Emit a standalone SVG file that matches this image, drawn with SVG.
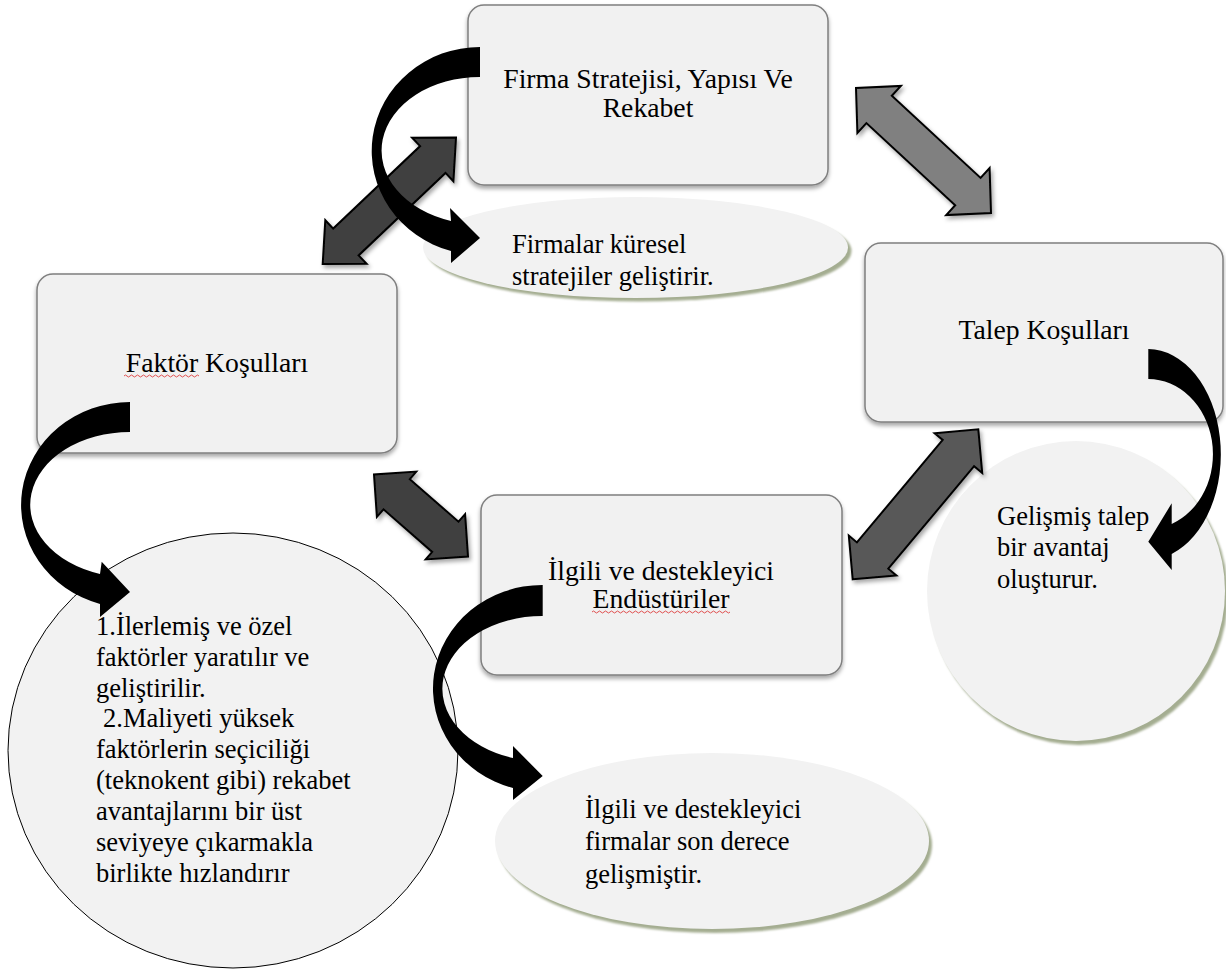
<svg xmlns="http://www.w3.org/2000/svg" width="1226" height="972" viewBox="0 0 1226 972">
<defs>
<style>
.box{fill:#f1f1f1;stroke:#7f7f7f;stroke-width:1.5;filter:url(#boxsh)}
.ell{fill:#f2f2f2}
.esh{fill:#a4ad91;filter:url(#blur1)}
.lbl{font-size:27.7px;fill:#000}
.txt{font-size:26.5px;fill:#000}
.mid{text-anchor:middle}
.dbl{stroke:#000;stroke-width:2;stroke-linejoin:miter;filter:url(#arrsh)}
.crv{fill:#000;stroke:none}
.wavy{fill:none;stroke:#e05050;stroke-width:1}
</style>
<filter id="boxsh" x="-10%" y="-10%" width="120%" height="130%">
<feDropShadow dx="0" dy="3" stdDeviation="2" flood-color="#000" flood-opacity="0.35"/>
</filter>
<filter id="arrsh" x="-20%" y="-20%" width="140%" height="140%">
<feDropShadow dx="2" dy="3" stdDeviation="2" flood-color="#000" flood-opacity="0.35"/>
</filter>
<filter id="blur1" x="-10%" y="-10%" width="120%" height="120%">
<feGaussianBlur stdDeviation="0.8"/>
</filter>
</defs>

<g font-family="Liberation Serif, DejaVu Serif, serif">
<g id="node-firma">
<rect class="box" x="468" y="5" width="360" height="180" rx="16"/>
<text class="lbl mid" x="648" y="88">Firma Stratejisi, Yapısı Ve</text>
<text class="lbl mid" x="648" y="117">Rekabet</text>
</g>

<g id="node-firmalar-kuresel">
<ellipse class="esh" cx="639" cy="251" rx="212.5" ry="50.5"/>
<ellipse class="ell" cx="635.5" cy="247.5" rx="212.5" ry="50.5"/>
<text class="txt" x="512" y="253">Firmalar küresel</text>
<text class="txt" x="512" y="285">stratejiler geliştirir.</text>
</g>

<g id="node-talep">
<rect class="box" x="865" y="243" width="358" height="179" rx="16"/>
<text class="lbl mid" x="1044" y="339">Talep Koşulları</text>
</g>

<g id="node-faktor">
<rect class="box" x="37" y="274" width="360" height="179" rx="16"/>
<text class="lbl mid" x="217" y="372">Faktör Koşulları</text>
<path class="wavy" d="M124 376 q1.5 -2 3 0 t3 0 t3 0 t3 0 t3 0 t3 0 t3 0 t3 0 t3 0 t3 0 t3 0 t3 0 t3 0 t3 0 t3 0 t3 0 t3 0 t3 0 t3 0 t3 0 t3 0 t3 0 t3 0 t3 0 t3 0"/>
</g>

<g id="node-ilgili">
<rect class="box" x="481" y="495" width="361" height="180" rx="16"/>
<text class="lbl mid" x="661" y="580">İlgili ve destekleyici</text>
<text class="lbl mid" x="661" y="608">Endüstüriler</text>
<path class="wavy" d="M592 612 q1.5 -2 3 0 t3 0 t3 0 t3 0 t3 0 t3 0 t3 0 t3 0 t3 0 t3 0 t3 0 t3 0 t3 0 t3 0 t3 0 t3 0 t3 0 t3 0 t3 0 t3 0 t3 0 t3 0 t3 0 t3 0 t3 0 t3 0 t3 0 t3 0 t3 0 t3 0 t3 0 t3 0 t3 0 t3 0 t3 0 t3 0 t3 0 t3 0 t3 0 t3 0 t3 0 t3 0 t3 0 t3 0 t3 0 t3 0"/>
</g>

<g id="node-gelismis-talep">
<ellipse class="esh" cx="1079" cy="595" rx="149" ry="150"/>
<ellipse class="ell" cx="1076" cy="591" rx="149" ry="150"/>
<text class="txt" x="997" y="525">Gelişmiş talep</text>
<text class="txt" x="997" y="556">bir avantaj</text>
<text class="txt" x="997" y="588">oluşturur.</text>
</g>

<g id="node-faktor-detay">
<ellipse cx="233" cy="750.5" rx="225" ry="217.5" fill="#f2f2f2" stroke="#000" stroke-width="1"/>
<text class="txt" x="96" y="635">1.İlerlemiş ve özel</text>
<text class="txt" x="96" y="666">faktörler yaratılır ve</text>
<text class="txt" x="96" y="697">geliştirilir.</text>
<text class="txt" x="103" y="727">2.Maliyeti yüksek</text>
<text class="txt" x="96" y="758">faktörlerin seçiciliği</text>
<text class="txt" x="96" y="789">(teknokent gibi) rekabet</text>
<text class="txt" x="96" y="820">avantajlarını bir üst</text>
<text class="txt" x="96" y="851">seviyeye çıkarmakla</text>
<text class="txt" x="96" y="882">birlikte hızlandırır</text>
</g>

<g id="node-ilgili-firmalar">
<ellipse class="esh" cx="715" cy="845" rx="217" ry="88"/>
<ellipse class="ell" cx="712" cy="841" rx="217" ry="88"/>
<text class="txt" x="585" y="818">İlgili ve destekleyici</text>
<text class="txt" x="585" y="850">firmalar son derece</text>
<text class="txt" x="585" y="883">gelişmiştir.</text>
</g>
</g>

<g id="connectors">
<polygon class="dbl" fill="#808080" points="856,88 857.4,132.9 866.4,123.1 955.2,205.3 946.2,215.1 991,213 989.6,168.1 980.6,177.9 891.8,95.7 900.9,85.9"/>
<polygon class="dbl" fill="#404040" points="322.7,264 366.6,263.7 358.6,255.4 445.5,172.9 453.4,181.3 456,137.5 412.1,137.8 420.1,146.1 333.2,228.6 325.3,220.2"/>
<polygon class="dbl" fill="#404040" points="374,474.5 376.9,516.8 383.5,509.3 432.2,551.9 425.7,559.4 468,556.5 465.1,514.2 458.5,521.7 409.8,479.2 416.3,471.6"/>
<polygon class="dbl" fill="#595959" points="852.7,579.3 896.4,575.4 888.3,568.7 974.1,466.2 982.2,473 978.3,429.3 934.6,433.2 942.7,439.9 856.9,542.4 848.8,535.6"/>

<path class="crv" d="M480 47 A108.3 103.9 0 0 0 451 251 L451 263 L480 238 L450 208 L451 221 A98 73.6 0 0 1 480 77 Z"/>
<path class="crv" d="M130 402 A109 103 0 0 0 100 604 L100 617 L130 592 L101.7 561.7 L100 574 A100 72.7 0 0 1 130 432 Z"/>
<path class="crv" d="M542.7 585 A109.4 103.4 0 0 0 513 788 L513 800 L542.7 776 L513 746 L513 758 A100 72.6 0 0 1 542.7 616 Z"/>
<path class="crv" d="M1148.3 349 A73 105.4 0 0 1 1171.7 554 L1171.7 570 L1148.3 541.7 L1171.7 503.3 L1171.7 524 A65 75.1 0 0 0 1148.3 379 Z"/>
</g>
</svg>
